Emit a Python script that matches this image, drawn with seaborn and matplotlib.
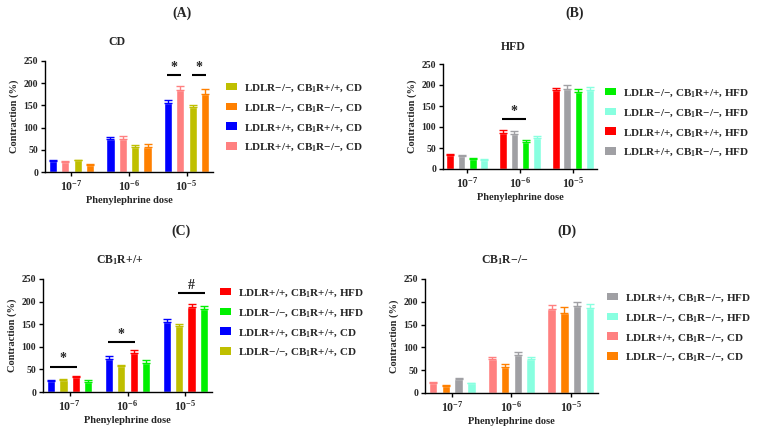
import numpy as np
import pandas as pd
import matplotlib
matplotlib.use('Agg')
import matplotlib.pyplot as plt
import seaborn as sns
from matplotlib.patches import Patch

sns.set_theme(style='ticks')
plt.rcParams['font.family'] = ['Liberation Serif', 'DejaVu Serif']
plt.rcParams['font.weight'] = 'bold'
plt.rcParams['axes.labelweight'] = 'bold'
plt.rcParams['mathtext.fontset'] = 'custom'
plt.rcParams['mathtext.rm'] = 'Liberation Serif:bold'
plt.rcParams['mathtext.it'] = 'Liberation Serif:bold:italic'
plt.rcParams['mathtext.bf'] = 'Liberation Serif:bold'

# ---------------- data ----------------
dose_labels = ['$10^{-7}$', '$10^{-6}$', '$10^{-5}$']

lbl_wt_wt_cd = 'LDLR+/+, CB$_1$R+/+, CD'
lbl_wt_ko_cd = 'LDLR+/+, CB$_1$R\u2212/\u2212, CD'
lbl_ko_wt_cd = 'LDLR\u2212/\u2212, CB$_1$R+/+, CD'
lbl_ko_ko_cd = 'LDLR\u2212/\u2212, CB$_1$R\u2212/\u2212, CD'
lbl_wt_wt_hfd = 'LDLR+/+, CB$_1$R+/+, HFD'
lbl_wt_ko_hfd = 'LDLR+/+, CB$_1$R\u2212/\u2212, HFD'
lbl_ko_wt_hfd = 'LDLR\u2212/\u2212, CB$_1$R+/+, HFD'
lbl_ko_ko_hfd = 'LDLR\u2212/\u2212, CB$_1$R\u2212/\u2212, HFD'

# mean contraction (%) at 1e-7, 1e-6, 1e-5
wt_wt_cd = [24, 74, 155]
wt_ko_cd = [22, 75, 184]
ko_wt_cd = [26, 57, 146]
ko_ko_cd = [15, 57, 176]
wt_wt_hfd = [33, 86, 187]
wt_ko_hfd = [31, 84, 190]
ko_wt_hfd = [23, 65, 183]
ko_ko_hfd = [21, 74, 187]

# SEM
wt_wt_cd_err = [3, 5, 7]
wt_ko_cd_err = [3, 5, 10]
ko_wt_cd_err = [2, 3, 4]
ko_ko_cd_err = [3, 6, 12]
wt_wt_hfd_err = [3, 7, 7]
wt_ko_hfd_err = [2, 6, 9]
ko_wt_hfd_err = [4, 5, 8]
ko_ko_hfd_err = [2, 5, 8]

values = {lbl_wt_wt_cd: wt_wt_cd, lbl_wt_ko_cd: wt_ko_cd, lbl_ko_wt_cd: ko_wt_cd,
          lbl_ko_ko_cd: ko_ko_cd, lbl_wt_wt_hfd: wt_wt_hfd, lbl_wt_ko_hfd: wt_ko_hfd,
          lbl_ko_wt_hfd: ko_wt_hfd, lbl_ko_ko_hfd: ko_ko_hfd}
errors = {lbl_wt_wt_cd: wt_wt_cd_err, lbl_wt_ko_cd: wt_ko_cd_err, lbl_ko_wt_cd: ko_wt_cd_err,
          lbl_ko_ko_cd: ko_ko_cd_err, lbl_wt_wt_hfd: wt_wt_hfd_err, lbl_wt_ko_hfd: wt_ko_hfd_err,
          lbl_ko_wt_hfd: ko_wt_hfd_err, lbl_ko_ko_hfd: ko_ko_hfd_err}
colors = {lbl_wt_wt_cd: '#0000FF', lbl_wt_ko_cd: '#FF8080', lbl_ko_wt_cd: '#BFBF00',
          lbl_ko_ko_cd: '#FF8000', lbl_wt_wt_hfd: '#FF0000', lbl_wt_ko_hfd: '#A0A0A4',
          lbl_ko_wt_hfd: '#00F000', lbl_ko_ko_hfd: '#88FFE0'}

# panel definitions: bar order, legend order, significance marks
panel_titles = ['CD', 'HFD', 'CB$_1$R+/+', 'CB$_1$R\u2212/\u2212']
panel_letters = ['(A)', '(B)', '(C)', '(D)']
bar_orders = [
    [lbl_wt_wt_cd, lbl_wt_ko_cd, lbl_ko_wt_cd, lbl_ko_ko_cd],
    [lbl_wt_wt_hfd, lbl_wt_ko_hfd, lbl_ko_wt_hfd, lbl_ko_ko_hfd],
    [lbl_wt_wt_cd, lbl_ko_wt_cd, lbl_wt_wt_hfd, lbl_ko_wt_hfd],
    [lbl_wt_ko_cd, lbl_ko_ko_cd, lbl_wt_ko_hfd, lbl_ko_ko_hfd],
]
legend_orders = [
    [lbl_ko_wt_cd, lbl_ko_ko_cd, lbl_wt_wt_cd, lbl_wt_ko_cd],
    [lbl_ko_wt_hfd, lbl_ko_ko_hfd, lbl_wt_wt_hfd, lbl_wt_ko_hfd],
    [lbl_wt_wt_hfd, lbl_ko_wt_hfd, lbl_wt_wt_cd, lbl_ko_wt_cd],
    [lbl_wt_ko_hfd, lbl_ko_ko_hfd, lbl_wt_ko_cd, lbl_ko_ko_cd],
]
# (dose index, first bar, last bar, y level, symbol)
sig_marks = [
    [(2, 0, 1, 218, '*'), (2, 2, 3, 218, '*')],
    [(1, 0, 2, 119, '*')],
    [(0, 0, 2, 56, '*'), (1, 0, 2, 110, '*'), (2, 1, 3, 219, '#')],
    [],
]

# ---------------- layout (pixel geometry) ----------------
W, H = 758, 429
axes_px = [(45, 61, 213, 172), (443, 64, 597, 169), (43, 279, 212, 392), (425, 279, 598, 393)]
legend_px = [(226, 82), (605, 87), (220, 287), (607, 292)]
title_px = [(117, 42), (513, 47), (120, 260), (505, 260)]
letter_px = [(182, 13), (575, 13), (181, 231), (567, 231)]

fig = plt.figure(figsize=(W / 100, H / 100), dpi=100)
fig.patch.set_facecolor('white')

for p in range(4):
    x0, y0, x1, y1 = axes_px[p]
    ax = fig.add_axes([x0 / W, 1 - y1 / H, (x1 - x0) / W, (y1 - y0) / H])
    order = bar_orders[p]
    rows = []
    for g in order:
        for d, v in zip(dose_labels, values[g]):
            rows.append({'dose': d, 'value': v, 'group': g})
    df = pd.DataFrame(rows)
    sns.barplot(data=df, x='dose', y='value', hue='group', hue_order=order,
                order=dose_labels, palette=colors, width=0.86, gap=0.33,
                errorbar=None, saturation=1, legend=False, ax=ax)
    centers = {}
    for gi, (g, cont) in enumerate(zip(order, ax.containers)):
        for di, patch in enumerate(cont.patches):
            cx = patch.get_x() + patch.get_width() / 2
            h = patch.get_height()
            centers[(di, gi)] = (cx, patch.get_width())
            ax.errorbar(cx, h, yerr=[[0], [errors[g][di]]], color=colors[g],
                        capsize=2.6, elinewidth=1.0, capthick=1.0, fmt='none')
    for (di, a, b, yv, sym) in sig_marks[p]:
        xa, w = centers[(di, a)]
        xb, _ = centers[(di, b)]
        ax.plot([xa - 0.1 * w, xb + 0.1 * w], [yv, yv], color='black', lw=1.5, solid_capstyle='butt')
        ax.text((xa + xb) / 2, yv + 3, sym, ha='center', va='bottom', fontsize=10, fontweight='bold')
    ax.set_xlim(-0.46, 2.46)
    ax.set_ylim(0, 250)
    ax.set_yticks(np.arange(0, 251, 50))
    ax.set_xlabel('Phenylephrine dose', fontsize=7.5, fontweight='bold', labelpad=2)
    ax.set_ylabel('Contraction (%)', fontsize=7.5, fontweight='bold', labelpad=3)
    ax.tick_params(axis='y', labelsize=7, length=3, width=1, pad=2, color='black')
    ax.tick_params(axis='x', labelsize=8.5, length=3, width=1, pad=2, color='black')
    for lab in ax.get_xticklabels() + ax.get_yticklabels():
        lab.set_fontweight('bold')
    sns.despine(ax=ax)
    for s in ['left', 'bottom']:
        ax.spines[s].set_linewidth(1)
        ax.spines[s].set_color('black')
    handles = [Patch(facecolor=colors[g], edgecolor='none') for g in legend_orders[p]]
    lx, ly = legend_px[p]
    ax.legend(handles, legend_orders[p], loc='upper left', bbox_to_anchor=(lx / W, 1 - ly / H),
              bbox_transform=fig.transFigure, frameon=False,
              handlelength=1.0, handleheight=0.65, handletextpad=0.6,
              labelspacing=0.7, borderaxespad=0, borderpad=0,
              prop={'weight': 'bold', 'size': 8})
    tx, ty = title_px[p]
    fig.text(tx / W, 1 - ty / H, panel_titles[p], ha='center', va='center', fontsize=8.5, fontweight='bold')
    kx, ky = letter_px[p]
    fig.text(kx / W, 1 - ky / H, panel_letters[p], ha='center', va='center', fontsize=10, fontweight='bold')

fig.savefig('out.png', dpi=100, facecolor='white')
